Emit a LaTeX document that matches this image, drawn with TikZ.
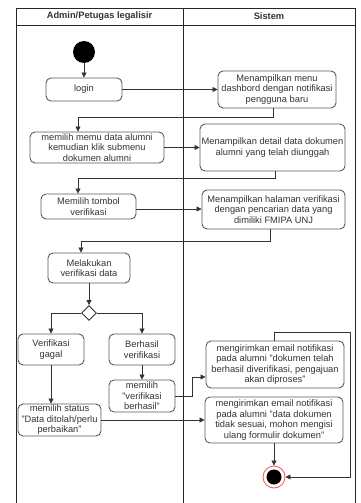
\documentclass[tikz,border=0pt]{standalone}
\usepackage{fontspec}
\setmainfont{Liberation Sans}
\usetikzlibrary{arrows.meta,shapes.geometric}
\definecolor{ln}{HTML}{333333}
\definecolor{boxc}{HTML}{5A5A5A}
\definecolor{txt}{HTML}{333333}
\definecolor{ring}{HTML}{FF5C5C}
\begin{document}
\begin{tikzpicture}[x=1pt,y=-1pt,
  box/.style={draw=boxc, rounded corners=5pt, line width=0.9pt, align=center,
    inner sep=0pt, font=\fontsize{9.3}{10.5}\selectfont, text=txt, fill=white},
  arr/.style={draw=ln, line width=0.8pt, -{Triangle[length=5pt,width=5pt]}},
  lane/.style={draw=black!85, line width=0.9pt},
  title/.style={font=\bfseries\fontsize{9.3}{11}\selectfont, text=txt, inner sep=0pt}
]
\useasboundingbox (0,0) rectangle (360,503);
% swimlanes
\draw[lane] (16,503) -- (16,8) -- (355,8) -- (355,503);
\draw[lane] (16,25) -- (355,25);
\draw[lane] (183,8) -- (183,503);
\node[title] (t1) at (99.5,16.5) {Admin/Petugas legalisir};
\node[title] (t2) at (269,16.5) {Sistem};

% nodes
\node[circle, fill=black, minimum size=22pt, inner sep=0pt] (start) at (84,52) {};
\node[box, minimum width=76pt, minimum height=23pt] (login) at (84,89.5) {login};
\node[box, minimum width=118pt, minimum height=37pt] (menu) at (277,89.5) {Menampilkan menu\\dashbord dengan notifikasi\\pengguna baru};
\node[box, minimum width=134pt, minimum height=31pt] (memu) at (97,147.5) {memilih memu data alumni\\kemudian klik submenu\\dokumen alumni};
\node[box, minimum width=145pt, minimum height=47pt] (detail) at (272.5,147.5) {Menampilkan detail data dokumen\\alumni yang telah diunggah};
\node[box, minimum width=95pt, minimum height=25pt] (tombol) at (88.5,206.5) {Memilih tombol\\verifikasi};
\node[box, minimum width=143pt, minimum height=39pt] (halaman) at (273.5,209.5) {Menampilkan halaman verifikasi\\dengan pencarian data yang\\dimiliki FMIPA UNJ};
\node[box, minimum width=82pt, minimum height=30pt] (lakukan) at (89,268) {Melakukan\\verifikasi data};
\node[diamond, draw=ln, fill=white, line width=0.9pt, minimum size=15pt, inner sep=0pt] (dec) at (89,313) {};
\node[box, minimum width=66pt, minimum height=31pt] (gagal) at (51,349.5) {Verifikasi\\gagal};
\node[box, minimum width=66pt, minimum height=31pt] (berhasil) at (142,349.5) {Berhasil\\verifikasi};
\node[box, minimum width=66pt, minimum height=32pt] (pilihok) at (142,396) {memilih\\"verifikasi\\berhasil"};
\node[box, minimum width=83pt, minimum height=32pt] (status) at (59.5,420) {memilih status\\"Data ditolah/perlu\\perbaikan"};
\node[box, minimum width=138pt, minimum height=47pt] (email1) at (275,364.5) {mengirimkan email notifikasi\\pada alumni "dokumen telah\\berhasil diverifikasi, pengajuan\\akan diproses"};
\node[box, minimum width=138pt, minimum height=46pt] (email2) at (274,420) {mengirimkan email notifikasi\\pada alumni "data dokumen\\tidak sesuai, mohon mengisi\\ulang formulir dokumen"};
\node[circle, draw=ring, line width=0.9pt, fill=white, minimum size=22pt, inner sep=0pt] (end) at (274,477) {};
\node[circle, fill=black, minimum size=15pt, inner sep=0pt] (endin) at (end.center) {};

% connectors
\draw[arr] (start) -- (login);
\draw[arr] (login) -- (menu);
\draw[arr] ([xshift=-4pt]menu.south) -- ++(0,9) -| ([xshift=-19pt]memu.north);
\draw[arr] (memu) -- (detail);
\draw[arr] ([xshift=2.5pt]detail.south) -- ++(0,7) -| ([xshift=-10.5pt]tombol.north);
\draw[arr] ([yshift=-2.5pt]tombol.east) -- ([yshift=-2.5pt]tombol.east -| halaman.west);
\draw[arr] ([xshift=-3.5pt]halaman.south) -- ++(0,11.5) -| ([xshift=-8pt]lakukan.north);
\draw[arr] (lakukan) -- (dec);
\draw[arr] (dec.west) -| (gagal.north);
\draw[arr] (dec.east) -| (berhasil.north);
\draw[arr] (gagal.south) -- (gagal.south |- status.north);
\draw[arr] (berhasil) -- (pilihok);
\draw[arr] (pilihok.east) -- ++(17,0) |- ([yshift=-12.5pt]email1.west);
\draw[arr] (status.east) -- (status.east -| email2.west);
\draw[arr] (email2) -- (end);
\draw[arr] ([xshift=-1pt]email1.north) -- ++(0,-8) -| ++(76,0) |- (end.east);
\end{tikzpicture}
\end{document}
